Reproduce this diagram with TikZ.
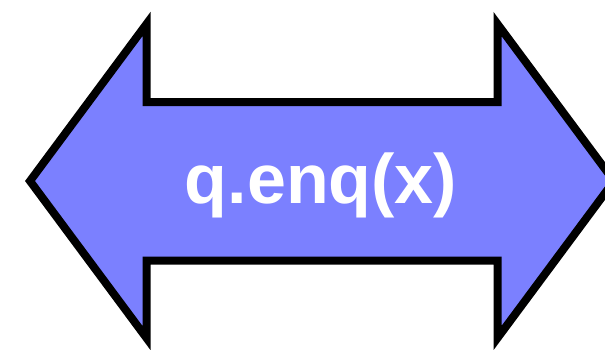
\documentclass[tikz,border=0pt]{standalone}
\usepackage{fontspec}
\setmainfont{Liberation Sans}
\usepackage{tikz}
\usetikzlibrary{positioning}
\definecolor{arrowblue}{RGB}{123,128,255}

\begin{document}
\begin{tikzpicture}[
    x=1pt, y=-1pt,
    shaft/.style={draw=black, fill=arrowblue, line width=8pt, line join=miter},
    label/.style={font=\fontsize{70}{80}\selectfont\bfseries, text=white, inner sep=0pt, anchor=base}
]
    \useasboundingbox (0,0) rectangle (605,349);
    % double headed arrow
    \draw[shaft] (30,181) -- (146.5,24) -- (146.5,102) -- (497.5,102) -- (497.5,24)
        -- (614,181) -- (497.5,338) -- (497.5,260.5) -- (146.5,260.5) -- (146.5,338) -- cycle;
    \node[label] (op) at (321,203) {q.enq(x)};
\end{tikzpicture}
\end{document}
